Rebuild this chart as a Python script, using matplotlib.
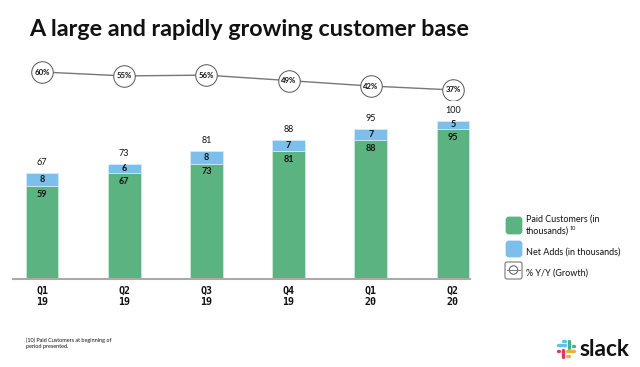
import matplotlib
matplotlib.use("Agg")
import matplotlib.pyplot as plt
from matplotlib.patches import FancyBboxPatch, Circle

quarters = ["Q1\n19", "Q2\n19", "Q3\n19", "Q4\n19", "Q1\n20", "Q2\n20"]
paid = [59, 67, 73, 81, 88, 95]
net_adds = [8, 6, 8, 7, 7, 5]
totals = [67, 73, 81, 88, 95, 100]
growth = [60, 55, 56, 49, 42, 37]

green = "#5BB381"
blue = "#7BBFEA"
dark = "#111111"
W, H = 640, 367

fig = plt.figure(figsize=(W / 100, H / 100), dpi=100)
plt.rcParams["font.family"] = ["Lato", "DejaVu Sans"]


def box(left, top, right, bottom):
    return [left / W, (H - bottom) / H, (right - left) / W, (bottom - top) / H]


# bars
ax = fig.add_axes(box(13, 121, 470, 279))
x = list(range(len(quarters)))
ax.bar(x, paid, width=0.4, color=green, edgecolor="#D5EBDD", linewidth=0.5)
ax.bar(x, net_adds, width=0.4, bottom=paid, color=blue, edgecolor="#D9EDF9", linewidth=0.5)
ax.set_xlim(-0.353, 5.207)
ax.set_ylim(0, 100)
ax.set_yticks([])
ax.set_xticks(x)
ax.set_xticklabels(quarters, fontsize=7.2, fontweight="bold", family=["DejaVu Sans Mono"],
                   color=dark, linespacing=1.1)
ax.tick_params(axis="x", length=0, pad=5)
for s in ["top", "left", "right"]:
    ax.spines[s].set_visible(False)
ax.spines["bottom"].set_color("#AAAAAA")
ax.spines["bottom"].set_linewidth(1.5)

for i in x:
    ax.annotate(str(totals[i]), (i, totals[i]), xytext=(0, 7.5), textcoords="offset points",
                ha="center", va="center", fontsize=6.5, color=dark, annotation_clip=False)
    ax.annotate(str(net_adds[i]), (i, paid[i] + net_adds[i] / 2), ha="center", va="center",
                fontsize=6.5, fontweight="bold", color=dark)
    ax.annotate(str(paid[i]), (i, paid[i]), xytext=(0, -6), textcoords="offset points",
                ha="center", va="center", fontsize=6.5, fontweight="bold", color=dark)

# growth line
ax2 = fig.add_axes(box(13, 60, 470, 100))
ax2.patch.set_alpha(0)
ax2.plot(x, growth, color="#777777", lw=1, marker="o", ms=15.5, mfc="white", mec="#555555", mew=0.7)
ax2.set_xlim(-0.353, 5.207)
ax2.set_ylim(24.1, 75.4)
ax2.axis("off")
for i in x:
    ax2.text(i, growth[i], f"{growth[i]}%", ha="center", va="center", fontsize=5.6,
             fontweight="bold", color=dark)

# everything else in pixel coordinates
ov = fig.add_axes([0, 0, 1, 1])
ov.patch.set_alpha(0)
ov.set_xlim(0, W)
ov.set_ylim(H, 0)
ov.axis("off")

ov.text(29, 30, "A large and rapidly growing customer base", fontsize=16.8, fontweight="bold",
        color=dark, va="center", ha="left")

ov.add_patch(FancyBboxPatch((507, 218), 14, 15, boxstyle="round,pad=0,rounding_size=2", fc=green, ec=green, lw=2))
ov.add_patch(FancyBboxPatch((507, 242), 14, 14, boxstyle="round,pad=0,rounding_size=2", fc=blue, ec=blue, lw=2))
ov.add_patch(FancyBboxPatch((505, 262), 17, 17, boxstyle="round,pad=0,rounding_size=2", fc="white", ec="#777777", lw=0.8))
ov.plot([507, 520], [270, 270], color="#777777", lw=0.7)
ov.add_patch(Circle((513.5, 270), 4.2, fc="white", ec="#555555", lw=0.7))

ov.text(526, 219.5, "Paid Customers (in", fontsize=6.5, color=dark, va="center")
ov.text(526, 231, "thousands)", fontsize=6.5, color=dark, va="center")
ov.text(570, 228.5, "10", fontsize=4, color=dark, va="center")
ov.text(526, 252, "Net Adds (in thousands)", fontsize=6.5, color=dark, va="center")
ov.text(526, 273, "% Y/Y (Growth)", fontsize=6.5, color=dark, va="center")

ov.text(26, 343.5, "(10) Paid Customers at beginning of\nperiod presented.", fontsize=4,
        color=dark, va="center", linespacing=1.15)

# slack logo
lw = 2.4
ov.plot([558, 565], [345, 345], color="#5CC3EC", lw=lw, solid_capstyle="round")
ov.plot([562.5, 565], [341, 341], color="#5CC3EC", lw=lw, solid_capstyle="round")
ov.plot([569, 569], [341, 348], color="#3FB488", lw=lw, solid_capstyle="round")
ov.plot([573, 574], [345.5, 345.5], color="#3FB488", lw=lw, solid_capstyle="round")
ov.plot([567, 574], [351, 351], color="#E5B53B", lw=lw, solid_capstyle="round")
ov.plot([567, 569], [355.5, 355.5], color="#E5B53B", lw=lw, solid_capstyle="round")
ov.plot([563, 563], [350, 356.5], color="#D83A63", lw=lw, solid_capstyle="round")
ov.plot([558, 559], [351, 351], color="#D83A63", lw=lw, solid_capstyle="round")
ov.text(579, 349, "slack", fontsize=16.3, fontweight="bold", color="#111111", va="center")

fig.savefig("out.png", dpi=100)
